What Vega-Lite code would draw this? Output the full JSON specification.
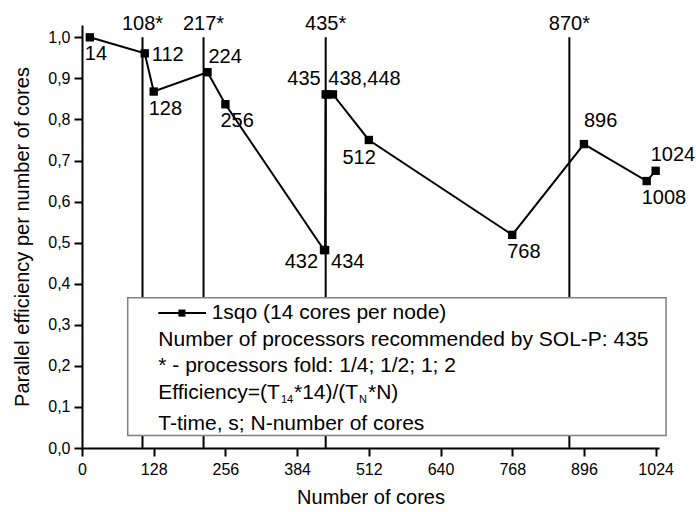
{
  "$schema": "https://vega.github.io/schema/vega-lite/v6.json",
  "width": 577,
  "height": 423,
  "autosize": {"type": "none"},
  "padding": {"left": 82, "top": 25, "right": 37, "bottom": 64},
  "background": "white",
  "config": {
    "view": {"stroke": null},
    "font": "Liberation Sans",
    "axis": {
      "grid": false,
      "tickColor": "black",
      "tickWidth": 2,
      "domainColor": "black",
      "domainWidth": 2,
      "labelFontSize": 16,
      "labelFont": "Liberation Sans",
      "labelColor": "black",
      "labelFlush": false,
      "labelOverlap": false,
      "titleFontSize": 20,
      "titleFont": "Liberation Sans",
      "titleFontWeight": "normal",
      "titleColor": "black"
    }
  },
  "datasets": {
    "pts": [
      {"cores": 14, "eff": 1.0, "label": "14", "pos": "bl"},
      {"cores": 112, "eff": 0.961, "label": "112", "pos": "r"},
      {"cores": 128, "eff": 0.868, "label": "128", "pos": "bl"},
      {"cores": 224, "eff": 0.915, "label": "224", "pos": "ar"},
      {"cores": 256, "eff": 0.837, "label": "256", "pos": "bl"},
      {"cores": 432, "eff": 0.482, "label": "432", "pos": "lb"},
      {"cores": 434, "eff": 0.482, "label": "434", "pos": "rb"},
      {"cores": 435, "eff": 0.861, "label": "435", "pos": "al"},
      {"cores": 438, "eff": 0.861, "label": "438,448", "pos": "ar"},
      {"cores": 448, "eff": 0.861, "label": "", "pos": "none"},
      {"cores": 512, "eff": 0.75, "label": "512", "pos": "br"},
      {"cores": 768, "eff": 0.519, "label": "768", "pos": "bl"},
      {"cores": 896, "eff": 0.74, "label": "896", "pos": "at"},
      {"cores": 1008, "eff": 0.65, "label": "1008", "pos": "bl"},
      {"cores": 1024, "eff": 0.675, "label": "1024", "pos": "ae"}
    ],
    "rules": [
      {"cores": 108, "tag": "108*"},
      {"cores": 217, "tag": "217*"},
      {"cores": 435, "tag": "435*"},
      {"cores": 870, "tag": "870*"}
    ],
    "box": [{"c1": 81.6, "c2": 1042.6, "e1": 0.0307, "e2": 0.366}],
    "sym": [{"c1": 136.2, "c2": 221.5, "mid": 178.4, "eff": 0.3285}],
    "leg": [
      {"cores": 231.5, "eff": 0.3285, "text": "1sqo (14 cores per node)", "kind": "main"},
      {"cores": 136.2, "eff": 0.2635, "text": "Number of processors recommended by SOL-P: 435", "kind": "main"},
      {"cores": 136.2, "eff": 0.2007, "text": "* - processors fold: 1/4; 1/2; 1; 2", "kind": "main"},
      {"cores": 136.2, "eff": 0.1338, "text": "Efficiency=(T", "kind": "main"},
      {"cores": 355.2, "eff": 0.1175, "text": "14", "kind": "sub"},
      {"cores": 378.4, "eff": 0.1338, "text": "*14)/(T", "kind": "main"},
      {"cores": 494.5, "eff": 0.1175, "text": "N", "kind": "sub"},
      {"cores": 510.5, "eff": 0.1338, "text": "*N)", "kind": "main"},
      {"cores": 136.2, "eff": 0.0591, "text": "T-time, s; N-number of cores", "kind": "main"}
    ]
  },
  "layer": [
    {
      "data": {"name": "pts"},
      "mark": {"type": "line", "color": "black", "strokeWidth": 2},
      "encoding": {
        "x": {
          "field": "cores", "type": "quantitative",
          "scale": {"domain": [0, 1030], "nice": false, "zero": false},
          "axis": {
            "title": "Number of cores",
            "values": [0, 64, 128, 192, 256, 320, 384, 448, 512, 576, 640, 704, 768, 832, 896, 960, 1024],
            "format": "d",
            "labelExpr": "datum.value % 128 === 0 ? datum.label : ''",
            "tickSize": {"condition": {"test": "datum.value % 128 === 0", "value": 8}, "value": 4},
            "labelPadding": 5,
            "titlePadding": 10
          }
        },
        "y": {
          "field": "eff", "type": "quantitative",
          "scale": {"domain": [0, 1.03], "nice": false, "zero": false},
          "axis": {
            "title": "Parallel efficiency per number of cores",
            "values": [0, 0.05, 0.1, 0.15, 0.2, 0.25, 0.3, 0.35, 0.4, 0.45, 0.5, 0.55, 0.6, 0.65, 0.7, 0.75, 0.8, 0.85, 0.9, 0.95, 1.0],
            "labelExpr": "round(datum.value * 100) % 10 === 0 ? replace(format(datum.value, '.1f'), '.', ',') : ''",
            "tickSize": {"condition": {"test": "round(datum.value * 100) % 10 === 0", "value": 8}, "value": 4},
            "labelPadding": 4,
            "titlePadding": 15
          }
        }
      }
    },
    {
      "data": {"name": "rules"},
      "mark": {"type": "rule", "color": "black", "strokeWidth": 2},
      "encoding": {
        "x": {"field": "cores", "type": "quantitative", "scale": {"domain": [0, 1030], "nice": false, "zero": false}},
        "y": {"datum": 0, "type": "quantitative", "scale": {"domain": [0, 1.03], "nice": false, "zero": false}},
        "y2": {"datum": 1}
      }
    },
    {
      "data": {"name": "rules"},
      "mark": {"type": "text", "color": "black", "fontSize": 20, "font": "Liberation Sans", "align": "center", "baseline": "alphabetic", "dy": -7},
      "encoding": {
        "x": {"field": "cores", "type": "quantitative", "scale": {"domain": [0, 1030], "nice": false, "zero": false}},
        "y": {"datum": 1, "type": "quantitative", "scale": {"domain": [0, 1.03], "nice": false, "zero": false}},
        "text": {"field": "tag"}
      }
    },
    {
      "data": {"name": "pts"},
      "mark": {"type": "square", "color": "black", "filled": true, "opacity": 1, "size": 70},
      "encoding": {
        "x": {"field": "cores", "type": "quantitative", "scale": {"domain": [0, 1030], "nice": false, "zero": false}},
        "y": {"field": "eff", "type": "quantitative", "scale": {"domain": [0, 1.03], "nice": false, "zero": false}}
      }
    },
    {
      "data": {"name": "pts"},
      "transform": [{"filter": "datum.pos === 'bl'"}],
      "mark": {"type": "text", "color": "black", "fontSize": 20, "font": "Liberation Sans", "align": "left", "baseline": "middle", "dx": -5, "dy": 17},
      "encoding": {
        "x": {"field": "cores", "type": "quantitative", "scale": {"domain": [0, 1030], "nice": false, "zero": false}},
        "y": {"field": "eff", "type": "quantitative", "scale": {"domain": [0, 1.03], "nice": false, "zero": false}},
        "text": {"field": "label"}
      }
    },
    {
      "data": {"name": "pts"},
      "transform": [{"filter": "datum.pos === 'r'"}],
      "mark": {"type": "text", "color": "black", "fontSize": 20, "font": "Liberation Sans", "align": "left", "baseline": "middle", "dx": 7, "dy": 2},
      "encoding": {
        "x": {"field": "cores", "type": "quantitative", "scale": {"domain": [0, 1030], "nice": false, "zero": false}},
        "y": {"field": "eff", "type": "quantitative", "scale": {"domain": [0, 1.03], "nice": false, "zero": false}},
        "text": {"field": "label"}
      }
    },
    {
      "data": {"name": "pts"},
      "transform": [{"filter": "datum.pos === 'ar'"}],
      "mark": {"type": "text", "color": "black", "fontSize": 20, "font": "Liberation Sans", "align": "left", "baseline": "middle", "dx": 1, "dy": -15},
      "encoding": {
        "x": {"field": "cores", "type": "quantitative", "scale": {"domain": [0, 1030], "nice": false, "zero": false}},
        "y": {"field": "eff", "type": "quantitative", "scale": {"domain": [0, 1.03], "nice": false, "zero": false}},
        "text": {"field": "label"}
      }
    },
    {
      "data": {"name": "pts"},
      "transform": [{"filter": "datum.pos === 'ae'"}],
      "mark": {"type": "text", "color": "black", "fontSize": 20, "font": "Liberation Sans", "align": "left", "baseline": "middle", "dx": -5, "dy": -16},
      "encoding": {
        "x": {"field": "cores", "type": "quantitative", "scale": {"domain": [0, 1030], "nice": false, "zero": false}},
        "y": {"field": "eff", "type": "quantitative", "scale": {"domain": [0, 1.03], "nice": false, "zero": false}},
        "text": {"field": "label"}
      }
    },
    {
      "data": {"name": "pts"},
      "transform": [{"filter": "datum.pos === 'at'"}],
      "mark": {"type": "text", "color": "black", "fontSize": 20, "font": "Liberation Sans", "align": "left", "baseline": "middle", "dx": 0, "dy": -23},
      "encoding": {
        "x": {"field": "cores", "type": "quantitative", "scale": {"domain": [0, 1030], "nice": false, "zero": false}},
        "y": {"field": "eff", "type": "quantitative", "scale": {"domain": [0, 1.03], "nice": false, "zero": false}},
        "text": {"field": "label"}
      }
    },
    {
      "data": {"name": "pts"},
      "transform": [{"filter": "datum.pos === 'al'"}],
      "mark": {"type": "text", "color": "black", "fontSize": 20, "font": "Liberation Sans", "align": "right", "baseline": "middle", "dx": -5, "dy": -15},
      "encoding": {
        "x": {"field": "cores", "type": "quantitative", "scale": {"domain": [0, 1030], "nice": false, "zero": false}},
        "y": {"field": "eff", "type": "quantitative", "scale": {"domain": [0, 1.03], "nice": false, "zero": false}},
        "text": {"field": "label"}
      }
    },
    {
      "data": {"name": "pts"},
      "transform": [{"filter": "datum.pos === 'br'"}],
      "mark": {"type": "text", "color": "black", "fontSize": 20, "font": "Liberation Sans", "align": "right", "baseline": "middle", "dx": 7, "dy": 18},
      "encoding": {
        "x": {"field": "cores", "type": "quantitative", "scale": {"domain": [0, 1030], "nice": false, "zero": false}},
        "y": {"field": "eff", "type": "quantitative", "scale": {"domain": [0, 1.03], "nice": false, "zero": false}},
        "text": {"field": "label"}
      }
    },
    {
      "data": {"name": "pts"},
      "transform": [{"filter": "datum.pos === 'lb'"}],
      "mark": {"type": "text", "color": "black", "fontSize": 20, "font": "Liberation Sans", "align": "right", "baseline": "middle", "dx": -6, "dy": 12},
      "encoding": {
        "x": {"field": "cores", "type": "quantitative", "scale": {"domain": [0, 1030], "nice": false, "zero": false}},
        "y": {"field": "eff", "type": "quantitative", "scale": {"domain": [0, 1.03], "nice": false, "zero": false}},
        "text": {"field": "label"}
      }
    },
    {
      "data": {"name": "pts"},
      "transform": [{"filter": "datum.pos === 'rb'"}],
      "mark": {"type": "text", "color": "black", "fontSize": 20, "font": "Liberation Sans", "align": "left", "baseline": "middle", "dx": 6, "dy": 12},
      "encoding": {
        "x": {"field": "cores", "type": "quantitative", "scale": {"domain": [0, 1030], "nice": false, "zero": false}},
        "y": {"field": "eff", "type": "quantitative", "scale": {"domain": [0, 1.03], "nice": false, "zero": false}},
        "text": {"field": "label"}
      }
    },
    {
      "data": {"name": "box"},
      "mark": {"type": "rect", "fill": "white", "stroke": "#808080", "strokeWidth": 1.5},
      "encoding": {
        "x": {"field": "c1", "type": "quantitative", "scale": {"domain": [0, 1030], "nice": false, "zero": false}},
        "x2": {"field": "c2"},
        "y": {"field": "e1", "type": "quantitative", "scale": {"domain": [0, 1.03], "nice": false, "zero": false}},
        "y2": {"field": "e2"}
      }
    },
    {
      "data": {"name": "sym"},
      "mark": {"type": "rule", "color": "black", "strokeWidth": 2},
      "encoding": {
        "x": {"field": "c1", "type": "quantitative", "scale": {"domain": [0, 1030], "nice": false, "zero": false}},
        "x2": {"field": "c2"},
        "y": {"field": "eff", "type": "quantitative", "scale": {"domain": [0, 1.03], "nice": false, "zero": false}}
      }
    },
    {
      "data": {"name": "sym"},
      "mark": {"type": "square", "color": "black", "filled": true, "opacity": 1, "size": 50},
      "encoding": {
        "x": {"field": "mid", "type": "quantitative", "scale": {"domain": [0, 1030], "nice": false, "zero": false}},
        "y": {"field": "eff", "type": "quantitative", "scale": {"domain": [0, 1.03], "nice": false, "zero": false}}
      }
    },
    {
      "data": {"name": "leg"},
      "transform": [{"filter": "datum.kind === 'main'"}],
      "mark": {"type": "text", "color": "black", "fontSize": 21, "font": "Liberation Sans", "align": "left", "baseline": "middle"},
      "encoding": {
        "x": {"field": "cores", "type": "quantitative", "scale": {"domain": [0, 1030], "nice": false, "zero": false}},
        "y": {"field": "eff", "type": "quantitative", "scale": {"domain": [0, 1.03], "nice": false, "zero": false}},
        "text": {"field": "text"}
      }
    },
    {
      "data": {"name": "leg"},
      "transform": [{"filter": "datum.kind === 'sub'"}],
      "mark": {"type": "text", "color": "black", "fontSize": 11, "font": "Liberation Sans", "align": "left", "baseline": "middle"},
      "encoding": {
        "x": {"field": "cores", "type": "quantitative", "scale": {"domain": [0, 1030], "nice": false, "zero": false}},
        "y": {"field": "eff", "type": "quantitative", "scale": {"domain": [0, 1.03], "nice": false, "zero": false}},
        "text": {"field": "text"}
      }
    }
  ]
}
